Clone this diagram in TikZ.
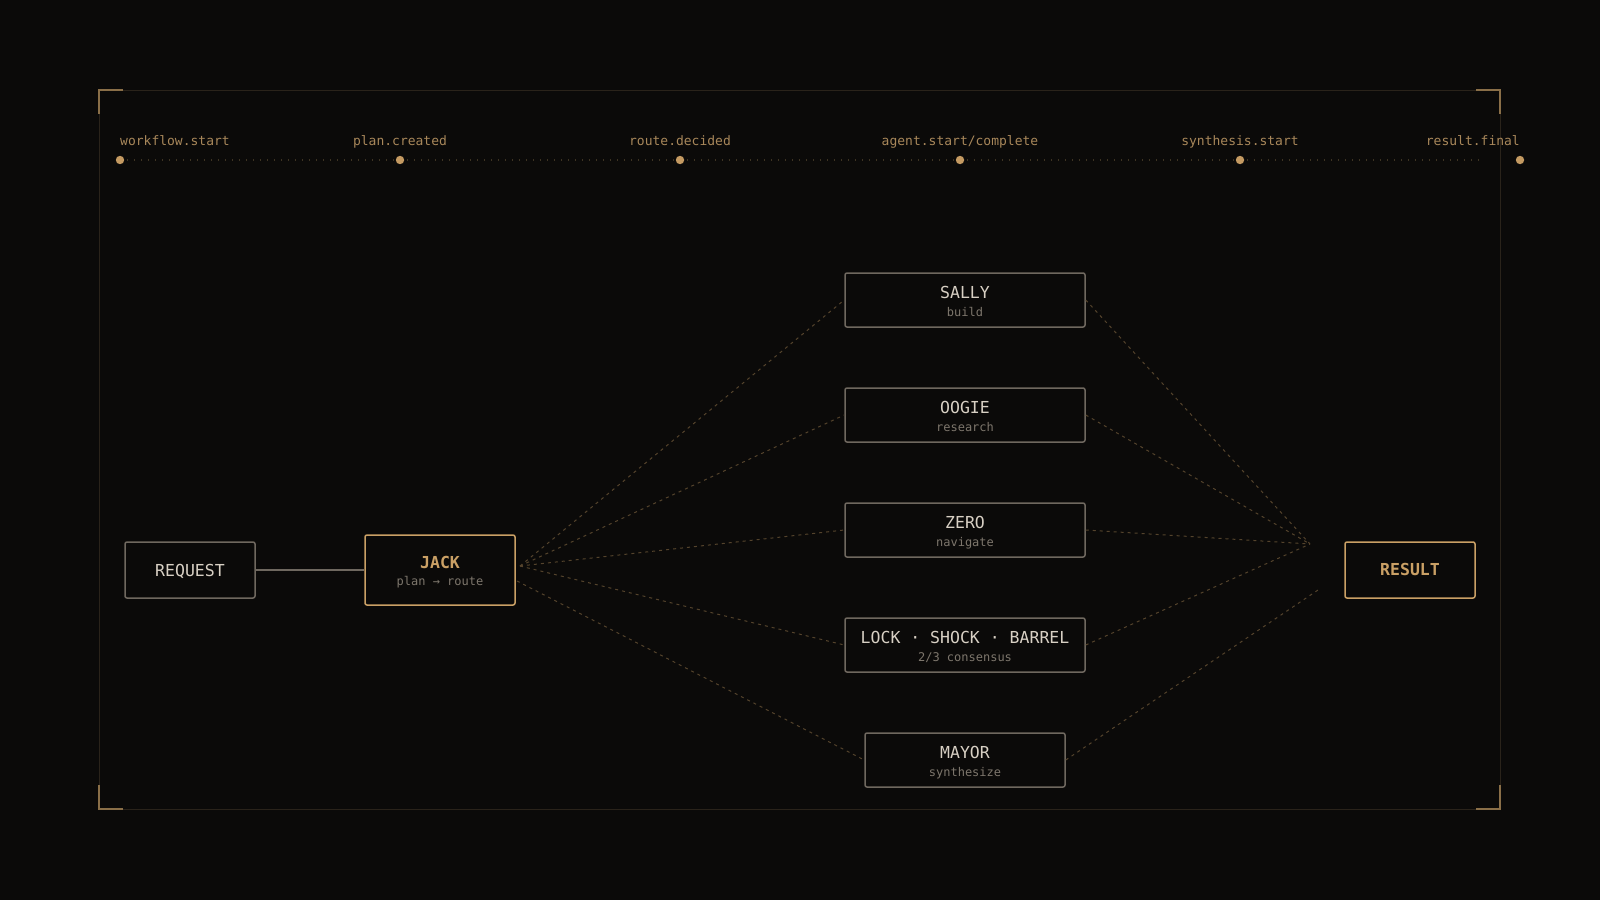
\documentclass[tikz,border=0pt]{standalone}
\usepackage{fontspec}
\setmonofont{DejaVu Sans Mono}
\usepackage{tikz}
\usetikzlibrary{positioning}
\definecolor{bg}{HTML}{0B0A09}
\definecolor{framedim}{HTML}{2A231A}
\definecolor{cornergold}{HTML}{8A6F48}
\definecolor{tickgold}{HTML}{A8875A}
\definecolor{dotgold}{HTML}{C49A62}
\definecolor{gold}{HTML}{CAA065}
\definecolor{boxgrey}{HTML}{6F685F}
\definecolor{ink}{HTML}{D8D0C4}
\definecolor{muted}{HTML}{7D766C}
\definecolor{wire}{HTML}{54432C}
\definecolor{dotline}{HTML}{3E3423}
\tikzset{
  base/.style={draw=boxgrey, line width=1.5pt, rounded corners=2pt, inner sep=0pt},
  agent/.style={base, minimum width=240pt, minimum height=54pt},
  agent_small/.style={base, minimum width=200pt, minimum height=54pt},
  io/.style={base, minimum width=130pt, minimum height=56pt},
  hub/.style={base, draw=gold, minimum width=150pt, minimum height=70pt},
  % text styles, placed on the baseline
  box_name/.style={anchor=base, text=ink, font={\ttfamily\fontsize{16.5}{20}\selectfont}},
  box_gold/.style={box_name, text=gold, font={\ttfamily\bfseries\fontsize{16.5}{20}\selectfont}},
  box_sub/.style={anchor=base, text=muted, font={\ttfamily\fontsize{12}{14}\selectfont}},
  event/.style={anchor=base, inner sep=0pt, text=tickgold, font={\ttfamily\fontsize{13}{15}\selectfont}},
  event_dot/.style={circle, fill=dotgold, minimum size=8.4pt, inner sep=0pt},
  % -------------------------------------------------
  % line styles
  frame_line/.style={draw=framedim, line width=1pt},
  corner_mark/.style={draw=cornergold, line width=1.5pt},
  track/.style={draw=dotline, line width=1.3pt, dash pattern=on 1.3pt off 5.7pt},
  solid_link/.style={draw=boxgrey, line width=1.5pt},
  flow/.style={draw=wire, line width=1pt, dash pattern=on 3pt off 4pt}
}

\begin{document}
\begin{tikzpicture}[x=1pt, y=-1pt]

\useasboundingbox (0,0) rectangle (1600,900);
\fill[bg] (0,0) rectangle (1600,900);

% -------------------------------------------------
% frame with corner marks
\draw[frame_line] (99,90) rectangle (1500,809);
\draw[corner_mark] (99,114) -- (99,90) -- (123,90);
\draw[corner_mark] (1476,90) -- (1500,90) -- (1500,114);
\draw[corner_mark] (99,785) -- (99,809) -- (123,809);
\draw[corner_mark] (1476,809) -- (1500,809) -- (1500,785);

% -------------------------------------------------
% event timeline
\coordinate (track_end) at (1480,160);
\coordinate (track_start) at (120,160);
\draw[track] (track_start) -- (track_end);
\node [event_dot] (t_start) at (120,160) {};
\node [event_dot] (t_plan) at (400,160) {};
\node [event_dot] (t_route) at (680,160) {};
\node [event_dot] (t_agent) at (960,160) {};
\node [event_dot] (t_synth) at (1240,160) {};
\node [event_dot] (t_final) at (1520,160) {};

\node [event, anchor=base west] at (120,145) {workflow.start};
\node [event] at (400,145) {plan.created};
\node [event] at (680,145) {route.decided};
\node [event] at (960,145) {agent.start/complete};
\node [event] at (1240,145) {synthesis.start};
\node [event, anchor=base east] at (1520,145) {result.final};

% -------------------------------------------------
% boxes
\node [io] (request) at (190,570) {};
\node [hub] (jack) at (440,570) {};
\node [io, draw=gold] (result) at (1410,570) {};

\node [agent] (sally) at (965,300) {};
\node [agent] (oogie) at (965,415) {};
\node [agent] (zero) at (965,530) {};
\node [agent] (lsb) at (965,645) {};
\node [agent_small] (mayor) at (965,760) {};

\node [box_name] at ([yshift=-6pt]request.center) {REQUEST};
\node [box_gold] at ([yshift=2pt]jack.center) {JACK};
\node [box_sub] at ([yshift=-15pt]jack.center) {plan → route};
\node [box_gold] at ([yshift=-5pt]result.center) {RESULT};

\node [box_name] at ([yshift=2pt]sally.center) {SALLY};
\node [box_sub] at ([yshift=-16pt]sally.center) {build};
\node [box_name] at ([yshift=2pt]oogie.center) {OOGIE};
\node [box_sub] at ([yshift=-16pt]oogie.center) {research};
\node [box_name] at ([yshift=2pt]zero.center) {ZERO};
\node [box_sub] at ([yshift=-16pt]zero.center) {navigate};
\node [box_name] at ([yshift=2pt]lsb.center) {LOCK · SHOCK · BARREL};
\node [box_sub] at ([yshift=-16pt]lsb.center) {2/3 consensus};
\node [box_name] at ([yshift=2pt]mayor.center) {MAYOR};
\node [box_sub] at ([yshift=-16pt]mayor.center) {synthesize};

% -------------------------------------------------
% connectors
\coordinate (jack_out) at (520,566);
\coordinate (jack_low) at (517,581);
\coordinate (merge) at (1310,544);
\coordinate (mayor_end) at (1318,590);

\draw[solid_link] (request) -- (jack);

\draw[flow] (jack_out) -- (sally.west);
\draw[flow] (jack_out) -- (oogie.west);
\draw[flow] (jack_out) -- (zero.west);
\draw[flow] (jack_out) -- (lsb.west);
\draw[flow] (jack_low) -- (mayor.west);

\draw[flow] (sally.east) -- (merge);
\draw[flow] (oogie.east) -- (merge);
\draw[flow] (zero.east) -- (merge);
\draw[flow] (lsb.east) -- (merge);
\draw[flow] (mayor.east) -- (mayor_end);

\end{tikzpicture}
\end{document}
